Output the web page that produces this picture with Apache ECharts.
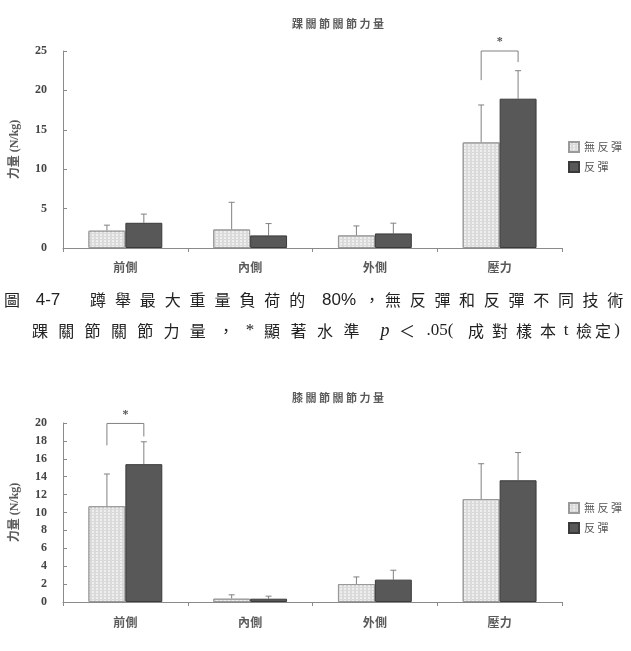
<!DOCTYPE html>
<html>
<head>
<meta charset="utf-8">
<script src="https://cdn.jsdelivr.net/npm/echarts/dist/echarts.min.js"></script>
<style>
  html, body { margin: 0; padding: 0; background: #fff; }
  #chart { width: 631px; height: 651px; }
</style>
</head>
<body>
<div id="chart"></div>
<script>
// categories and series
var categories = ['前側', '內側', '外側', '壓力'];
var seriesNames = ['無反彈', '反彈'];

// ankle (踝關節)
var ankleNoRebound = [2.2, 2.35, 1.6, 13.4];
var ankleNoReboundSD = [0.7, 3.45, 1.2, 4.75];
var ankleRebound = [3.2, 1.6, 1.85, 18.95];
var ankleReboundSD = [1.1, 1.5, 1.3, 3.55];
var ankleTicks = [0, 5, 10, 15, 20, 25];

// knee (膝關節)
var kneeNoRebound = [10.7, 0.37, 2.0, 11.5];
var kneeNoReboundSD = [3.6, 0.43, 0.8, 3.95];
var kneeRebound = [15.4, 0.37, 2.5, 13.6];
var kneeReboundSD = [2.5, 0.28, 1.05, 3.1];
var kneeTicks = [0, 2, 4, 6, 8, 10, 12, 14, 16, 18, 20];

// significance brackets: [category, left end, top, right end]
var ankleSig = [[3, 21.3, 25, 23.6]];
var kneeSig = [[0, 17.5, 19.95, 18.5]];

var BAR_RATIO = 0.296;
var serif = '"Liberation Serif", "Noto Sans CJK TC", serif';
var cjk = '"Noto Sans CJK TC", "Noto Sans CJK SC", sans-serif';

var chart = echarts.init(document.getElementById('chart'));

function errData(mean, sd) {
  return mean.map(function (v, i) { return [i, v, v + sd[i]]; });
}

function errRender(sign) {
  return function (params, api) {
    var lo = api.coord([api.value(0), api.value(1)]);
    var hi = api.coord([api.value(0), api.value(2)]);
    var bw = api.size([1, 0])[0] * BAR_RATIO;
    var cx = lo[0] + sign * bw / 2;
    var st = { stroke: '#808080', lineWidth: 1 };
    return {
      type: 'group',
      children: [
        { type: 'line', shape: { x1: cx, y1: lo[1], x2: cx, y2: hi[1] }, style: st },
        { type: 'line', shape: { x1: cx - 3, y1: hi[1], x2: cx + 3, y2: hi[1] }, style: st }
      ]
    };
  };
}

function sigRender(params, api) {
  var c = api.value(0);
  var bw = api.size([1, 0])[0] * BAR_RATIO;
  var top = api.coord([c, api.value(2)]);
  var l = api.coord([c, api.value(1)]);
  var r = api.coord([c, api.value(3)]);
  var xl = top[0] - bw / 2, xr = top[0] + bw / 2;
  return {
    type: 'group',
    children: [
      { type: 'polyline', shape: { points: [[xl, l[1]], [xl, top[1]], [xr, top[1]], [xr, r[1]]] },
        style: { stroke: '#808080', lineWidth: 1, fill: null } },
      { type: 'text', style: { text: '*', x: top[0], y: top[1] - 3, align: 'center', verticalAlign: 'bottom',
        font: 'bold 12px ' + serif, fill: '#555' } }
    ]
  };
}

function xAxisCfg(gi, margin) {
  return {
    type: 'category', gridIndex: gi, data: categories,
    axisLine: { lineStyle: { color: '#8a8a8a' } },
    axisTick: { show: true, length: 4, lineStyle: { color: '#8a8a8a' } },
    axisLabel: { margin: margin, fontFamily: cjk, fontSize: 12, fontWeight: 'bold', color: '#5a5a5a' }
  };
}

function yAxisCfg(gi, ticks) {
  return {
    type: 'value', gridIndex: gi, min: ticks[0], max: ticks[ticks.length - 1],
    interval: ticks[1] - ticks[0],
    name: '力量 (N/kg)', nameLocation: 'middle', nameGap: 42,
    nameTextStyle: { fontFamily: serif, fontSize: 12, fontWeight: 'bold', color: '#5a5a5a' },
    axisLine: { show: true, lineStyle: { color: '#8a8a8a' } },
    axisTick: { show: true, inside: true, length: 4, lineStyle: { color: '#8a8a8a' } },
    splitLine: { show: false },
    axisLabel: { margin: 16, fontFamily: serif, fontSize: 12, fontWeight: 'bold', color: '#444' }
  };
}

var lightStyle = {
  color: '#dadada', borderColor: '#9a9a9a', borderWidth: 1,
  decal: { symbol: 'rect', symbolSize: 1, color: 'rgba(255,255,255,0.55)',
    dashArrayX: [2, 2], dashArrayY: [2, 1], rotation: 0 }
};
var darkStyle = { color: '#585858', borderColor: '#3a3a3a', borderWidth: 1 };

function barSeries(name, gi, data, style) {
  return {
    name: name, type: 'bar', xAxisIndex: gi, yAxisIndex: gi, data: data,
    barWidth: (BAR_RATIO * 100) + '%', barGap: '0%', itemStyle: style, z: 3
  };
}
function errSeries(gi, mean, sd, sign) {
  return { type: 'custom', xAxisIndex: gi, yAxisIndex: gi, data: errData(mean, sd),
    renderItem: errRender(sign), z: 2, silent: true };
}
function sigSeries(gi, data) {
  return { type: 'custom', xAxisIndex: gi, yAxisIndex: gi, data: data,
    renderItem: sigRender, clip: false, z: 4, silent: true };
}

function legendCfg(top) {
  return {
    data: seriesNames, left: 563, top: top, orient: 'vertical', icon: 'rect',
    itemWidth: 10, itemHeight: 10, itemGap: 8,
    textStyle: { fontFamily: cjk, fontSize: 11, color: '#555' },
    formatter: function (n) { return n.split('').join(' '); }
  };
}

// caption, laid out token by token to follow the spaced print
var captionLine1 = [['圖', 12], ['4-7', 48, 0, 'sans'], ['蹲舉最大重量負荷的', 98, 24.9], ['80%', 339, 0, 'sans'],
  ['，', 372], ['無反彈和反彈不同技術', 393, 24.7]];
var captionLine2 = [['踝關節關節力量', 40, 26.3], ['，', 226], ['*', 250, 0, 'serif'], ['顯著水準', 272, 26.5],
  ['p', 385, 0, 'italic'], ['＜', 407], ['.05(', 440, 0, 'serif'], ['成對樣本', 476, 24], ['t', 566, 0, 'serif'],
  ['檢定', 584, 19], [')', 617, 0, 'serif']];

function captionGraphics(line, y) {
  var out = [];
  line.forEach(function (seg) {
    var text = seg[0], x0 = seg[1], pitch = seg[2] || 0, kind = seg[3];
    var font = '16px ' + cjk;
    if (kind === 'sans') font = '17px "Liberation Sans", sans-serif';
    if (kind === 'serif') font = '17px ' + serif;
    if (kind === 'italic') font = 'italic 18px ' + serif;
    var parts = pitch ? text.split('') : [text];
    parts.forEach(function (ch, i) {
      out.push({ type: 'text', x: x0 + i * pitch, y: y,
        style: { text: ch, font: font, fill: '#222', align: 'center', verticalAlign: 'middle' } });
    });
  });
  return out;
}

var option = {
  animation: false,
  backgroundColor: '#fff',
  title: [
    { text: '踝 關 節 關 節 力 量', left: 333, top: 13, textAlign: 'center',
      textStyle: { fontFamily: cjk, fontSize: 11, fontWeight: 'bold', color: '#5a5a5a' } },
    { text: '膝 關 節 關 節 力 量', left: 333, top: 387, textAlign: 'center',
      textStyle: { fontFamily: cjk, fontSize: 11, fontWeight: 'bold', color: '#5a5a5a' } }
  ],
  legend: [legendCfg(136), legendCfg(497)],
  grid: [
    { left: 63, right: 69, top: 51, height: 197 },
    { left: 63, right: 69, top: 423, height: 179 }
  ],
  xAxis: [xAxisCfg(0, 13), xAxisCfg(1, 14)],
  yAxis: [yAxisCfg(0, ankleTicks), yAxisCfg(1, kneeTicks)],
  series: [
    barSeries(seriesNames[0], 0, ankleNoRebound, lightStyle),
    barSeries(seriesNames[1], 0, ankleRebound, darkStyle),
    errSeries(0, ankleNoRebound, ankleNoReboundSD, -1),
    errSeries(0, ankleRebound, ankleReboundSD, 1),
    sigSeries(0, ankleSig),
    barSeries(seriesNames[0], 1, kneeNoRebound, lightStyle),
    barSeries(seriesNames[1], 1, kneeRebound, darkStyle),
    errSeries(1, kneeNoRebound, kneeNoReboundSD, -1),
    errSeries(1, kneeRebound, kneeReboundSD, 1),
    sigSeries(1, kneeSig)
  ],
  graphic: captionGraphics(captionLine1, 300).concat(captionGraphics(captionLine2, 331))
};

chart.setOption(option);
</script>
</body>
</html>
